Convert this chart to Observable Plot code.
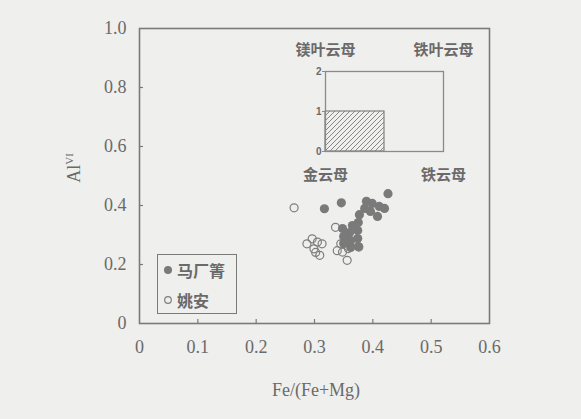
<!DOCTYPE html>
<html>
<head>
<meta charset="utf-8">
<script src="https://cdn.jsdelivr.net/npm/d3@7"></script>
<script src="https://cdn.jsdelivr.net/npm/@observablehq/plot@0.6"></script>
<style>
  html, body { margin: 0; padding: 0; background: #efefed; }
  #wrap { position: relative; width: 581px; height: 419px; overflow: hidden; }
  #wrap svg { overflow: visible; }
  .cjk { font-family: "Noto Sans CJK SC", sans-serif; font-weight: bold; color: #6a6a6a; }
</style>
</head>
<body>
<div id="wrap"></div>
<script>
// ---------- data ----------
const seriesNames = ["马厂箐", "姚安"];

// 马厂箐 (filled)
const machangX = [0.317, 0.346, 0.426,
                  0.389, 0.399, 0.411, 0.420, 0.396, 0.408, 0.386,
                  0.377, 0.375, 0.374, 0.374, 0.375,
                  0.348, 0.350, 0.350, 0.360, 0.362, 0.362, 0.365];
const machangY = [0.389, 0.409, 0.440,
                  0.414, 0.407, 0.397, 0.390, 0.380, 0.363, 0.390,
                  0.369, 0.342, 0.315, 0.288, 0.261,
                  0.322, 0.295, 0.271, 0.308, 0.281, 0.258, 0.332];

// 姚安 (hollow)
const yaoanX = [0.265, 0.287, 0.296, 0.305, 0.313, 0.299, 0.302, 0.309,
                0.336, 0.339, 0.348, 0.356, 0.345, 0.376, 0.358];
const yaoanY = [0.392, 0.270, 0.287, 0.276, 0.270, 0.253, 0.241, 0.231,
                0.326, 0.247, 0.242, 0.214, 0.270, 0.259, 0.254];

const xTicks = [0, 0.1, 0.2, 0.3, 0.4, 0.5, 0.6];
const xTickLabels = ["0", "0.1", "0.2", "0.3", "0.4", "0.5", "0.6"];
const yTicks = [0, 0.2, 0.4, 0.6, 0.8, 1.0];
const yTickLabels = ["0", "0.2", "0.4", "0.6", "0.8", "1.0"];
const xLabel = "Fe/(Fe+Mg)";
const yLabelBase = "Al";
const yLabelSup = "VI";

// inset (mica classification sketch)
const insetXDomain = [0, 1];
const insetYDomain = [0, 2];
const insetYTicks = [0, 1, 2];
const insetYTickLabels = ["0", "1", "2"];
const insetHatchX = [0, 0.5];
const insetHatchY = [0, 1];
const endMembersTop = ["镁叶云母", "铁叶云母"];
const endMembersTopX = [0, 1];
const endMembersTopY = [2, 2];
const endMembersBottom = ["金云母", "铁云母"];
const endMembersBottomX = [0, 1];
const endMembersBottomY = [0, 0];

// ---------- build ----------
const machang = machangX.map((x, i) => ({x, y: machangY[i]}));
const yaoan = yaoanX.map((x, i) => ({x, y: yaoanY[i]}));
const xLab = new Map(xTicks.map((t, i) => [t, xTickLabels[i]]));
const yLab = new Map(yTicks.map((t, i) => [t, yTickLabels[i]]));
const insetLab = new Map(insetYTicks.map((t, i) => [t, insetYTickLabels[i]]));

const axisColor = "#7a7a7a";
const textColor = "#6a6a6a";
const serif = "Liberation Serif, Times New Roman, serif";
const cjkFont = "Noto Sans CJK SC, sans-serif";
const cjkColor = "#6a6a6a";

const main = Plot.plot({
  width: 581,
  height: 419,
  marginLeft: 139,
  marginRight: 92,
  marginTop: 28,
  marginBottom: 96,
  style: {background: "transparent", fontFamily: serif, overflow: "visible"},
  x: {domain: [0, 0.6]},
  y: {domain: [0, 1]},
  marks: [
    Plot.axisX({ticks: xTicks, tickFormat: d => xLab.get(d), tickSize: 0, tickPadding: 17,
                fontSize: 18, fill: textColor, label: null}),
    Plot.axisY({ticks: yTicks, tickFormat: d => yLab.get(d), tickSize: 0, tickPadding: 13,
                fontSize: 18, fill: textColor, label: null}),
    Plot.tickX(xTicks.slice(1, -1), {x: d => d, insetTop: 291, stroke: axisColor, strokeWidth: 1.2}),
    Plot.tickY(yTicks.slice(1, -1), {y: d => d, insetRight: 346, stroke: axisColor, strokeWidth: 1.2}),
    Plot.dot(yaoan, {x: "x", y: "y", r: 4, stroke: "#7e7e7e", strokeWidth: 1.2, fill: "none"}),
    Plot.dot(machang, {x: "x", y: "y", r: 4.6, fill: "#7a7a7a", stroke: "none"}),
    Plot.frame({stroke: axisColor, strokeWidth: 1.6})
  ]
});

// x label
d3.select(main).append("text")
  .attr("x", 316).attr("y", 396)
  .attr("text-anchor", "middle")
  .attr("font-family", serif)
  .attr("font-size", 18)
  .attr("fill", textColor)
  .text(xLabel);

// Al^VI label
const ylab = d3.select(main).append("text")
  .attr("transform", "translate(80,168) rotate(-90)")
  .attr("text-anchor", "middle")
  .attr("font-family", serif)
  .attr("font-size", 18)
  .attr("fill", textColor);
ylab.append("tspan").text(yLabelBase);
ylab.append("tspan").attr("font-size", 11).attr("dy", -7).text(yLabelSup);

const wrap = document.getElementById("wrap");
wrap.appendChild(main);

// ---------- inset ----------
const inset = Plot.plot({
  width: 198,
  height: 150,
  marginLeft: 40,
  marginRight: 40,
  marginTop: 35,
  marginBottom: 35,
  style: {background: "transparent", overflow: "visible"},
  x: {domain: insetXDomain, axis: null},
  y: {domain: insetYDomain, axis: null},
  marks: [
    Plot.rect([{x1: insetHatchX[0], x2: insetHatchX[1], y1: insetHatchY[0], y2: insetHatchY[1]}],
      {x1: "x1", x2: "x2", y1: "y1", y2: "y2", fill: "url(#hatch)", stroke: "#808080", strokeWidth: 1.2}),
    Plot.frame({stroke: "#8a8a8a", strokeWidth: 1.3}),
    Plot.axisY({ticks: insetYTicks, tickFormat: d => insetLab.get(d), tickSize: 3, tickPadding: 1,
                fontSize: 10, fontWeight: "bold", fill: "#6a6a6a", stroke: "#8a8a8a",
                fontFamily: "Liberation Sans, Arial, sans-serif", label: null}),
    Plot.text(endMembersTop, {x: (d, i) => endMembersTopX[i], y: (d, i) => endMembersTopY[i], dy: -21,
      fontSize: 15, fontWeight: "bold", fill: cjkColor, fontFamily: cjkFont}),
    Plot.text(endMembersBottom, {x: (d, i) => endMembersBottomX[i], y: (d, i) => endMembersBottomY[i], dy: 24,
      fontSize: 15, fontWeight: "bold", fill: cjkColor, fontFamily: cjkFont})
  ]
});
const defs = d3.select(inset).insert("defs", ":first-child");
const pat = defs.append("pattern")
  .attr("id", "hatch").attr("patternUnits", "userSpaceOnUse")
  .attr("width", 5).attr("height", 5);
pat.append("path").attr("d", "M0,5 L5,0 M-1,1 L1,-1 M4,6 L6,4")
  .attr("stroke", "#7a7a7a").attr("stroke-width", 0.9);
inset.style.position = "absolute";
inset.style.left = "285px";
inset.style.top = "36px";
wrap.appendChild(inset);

// ---------- legend ----------
const legend = document.createElement("div");
legend.style.cssText = "position:absolute;left:157px;top:254px;width:80px;height:60px;box-sizing:border-box;border:1.5px solid #7a7a7a;";
const rowTops = [4, 34];
seriesNames.forEach((name, i) => {
  const row = document.createElement("div");
  row.className = "cjk";
  row.style.cssText = `position:absolute;left:4px;top:${rowTops[i]}px;height:22px;display:flex;align-items:center;font-size:16px;`;
  const sw = i === 0
    ? `<svg width="14" height="14"><circle cx="6" cy="7" r="4" fill="#7a7a7a"/></svg>`
    : `<svg width="14" height="14"><circle cx="6" cy="7" r="3.3" fill="none" stroke="#7e7e7e" stroke-width="1.2"/></svg>`;
  row.innerHTML = sw + `<span style="margin-left:1px">${name}</span>`;
  legend.appendChild(row);
});
wrap.appendChild(legend);
</script>
</body>
</html>
